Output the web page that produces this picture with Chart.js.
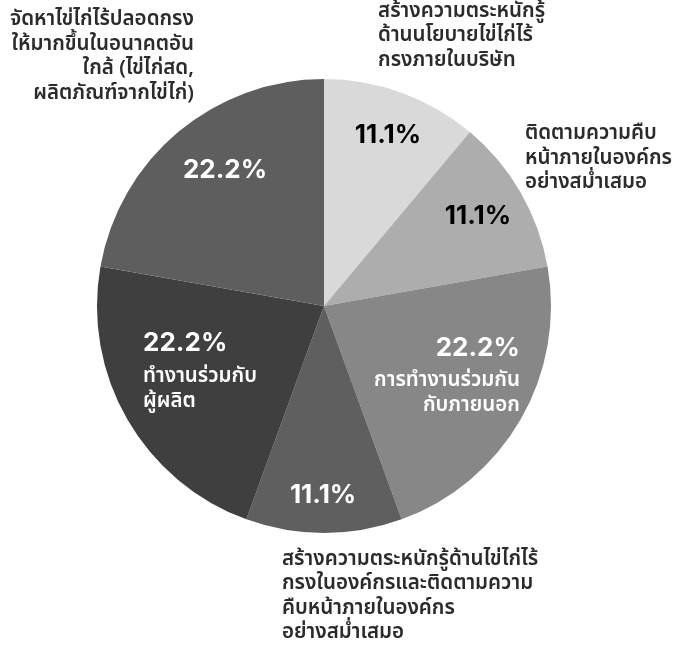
<!DOCTYPE html>
<html>
<head>
<meta charset="utf-8">
<script src="https://cdn.jsdelivr.net/npm/chart.js@4"></script>
<style>
html,body{margin:0;padding:0;background:#fff;}
#wrap{width:675px;height:646px;position:relative;}
</style>
</head>
<body>
<div id="wrap"><canvas id="c" width="675" height="646"></canvas></div>
<script>
const categories = [
  "สร้างความตระหนักรู้ด้านนโยบายไข่ไก่ไร้กรงภายในบริษัท",
  "ติดตามความคืบหน้าภายในองค์กรอย่างสม่ำเสมอ",
  "การทำงานร่วมกันกับภายนอก",
  "สร้างความตระหนักรู้ด้านไข่ไก่ไร้กรงในองค์กรและติดตามความคืบหน้าภายในองค์กรอย่างสม่ำเสมอ",
  "ทำงานร่วมกับผู้ผลิต",
  "จัดหาไข่ไก่ไร้ปลอดกรงให้มากขึ้นในอนาคตอันใกล้ (ไข่ไก่สด, ผลิตภัณฑ์จากไข่ไก่)"
];
const values = [11.1, 11.1, 22.2, 11.1, 22.2, 22.2];
const labelLines = [
  ["สร้างความตระหนักรู้", "ด้านนโยบายไข่ไก่ไร้", "กรงภายในบริษัท"],
  ["ติดตามความคืบ", "หน้าภายในองค์กร", "อย่างสม่ำเสมอ"],
  ["การทำงานร่วมกัน", "กับภายนอก"],
  ["สร้างความตระหนักรู้ด้านไข่ไก่ไร้", "กรงในองค์กรและติดตามความ", "คืบหน้าภายในองค์กร", "อย่างสม่ำเสมอ"],
  ["ทำงานร่วมกับ", "ผู้ผลิต"],
  ["จัดหาไข่ไก่ไร้ปลอดกรง", "ให้มากขึ้นในอนาคตอัน", "ใกล้ (ไข่ไก่สด,", "ผลิตภัณฑ์จากไข่ไก่)"]
];
const colors = ["#d9d9d9", "#adadad", "#878787", "#5f5f5f", "#3f3f3f", "#5e5e5e"];
const pctColors = ["#000000", "#000000", "#ffffff", "#ffffff", "#ffffff", "#ffffff"];

// annotation layout, in units of the pie radius relative to its centre
const layout = [
  {pct:[0.282,-0.753,"center"], lab:[0.238,-1.293,"left","#2b2b2b"]},
  {pct:[0.678,-0.396,"center"], lab:[0.885,-0.753,"left","#2b2b2b"]},
  {pct:[0.863,0.185,"right"], lab:[0.863,0.335,"right","#ffffff"]},
  {pct:[-0.004,0.833,"center"], lab:[-0.185,1.122,"left","#2b2b2b"]},
  {pct:[-0.797,0.163,"left"], lab:[-0.797,0.318,"left","#ffffff"]},
  {pct:[-0.436,-0.599,"center"], lab:[-0.573,-1.255,"right","#2b2b2b"]}
];

const THAI = "'Noto Sans Thai','Noto Sans','DejaVu Sans',sans-serif";

const labelPlugin = {
  id: 'labelPlugin',
  afterDatasetsDraw(chart) {
    const ctx = chart.ctx;
    const arc = chart.getDatasetMeta(0).data[0];
    const cx = arc.x, cy = arc.y, r = arc.outerRadius;
    ctx.save();
    ctx.textBaseline = 'middle';
    values.forEach((v, i) => {
      const L = layout[i];
      ctx.font = "bold 26px Inter, 'Noto Sans', sans-serif";
      ctx.fillStyle = pctColors[i];
      ctx.textAlign = L.pct[2];
      ctx.fillText(v.toFixed(1) + "%", cx + L.pct[0]*r, cy + L.pct[1]*r);
      ctx.font = "600 20.5px " + THAI;
      ctx.fillStyle = L.lab[3];
      ctx.textAlign = L.lab[2];
      labelLines[i].forEach((ln, k) => {
        ctx.fillText(ln, cx + L.lab[0]*r, cy + L.lab[1]*r + k*24.5);
      });
    });
    ctx.restore();
  }
};

new Chart(document.getElementById('c'), {
  type: 'pie',
  data: {
    labels: categories,
    datasets: [{
      data: values,
      backgroundColor: colors,
      borderWidth: 0
    }]
  },
  options: {
    responsive: false,
    animation: false,
    layout: {padding: {top: 79, bottom: 113, left: 97, right: 124}},
    plugins: {legend: {display: false}, tooltip: {enabled: false}}
  },
  plugins: [labelPlugin]
});
</script>
</body>
</html>
